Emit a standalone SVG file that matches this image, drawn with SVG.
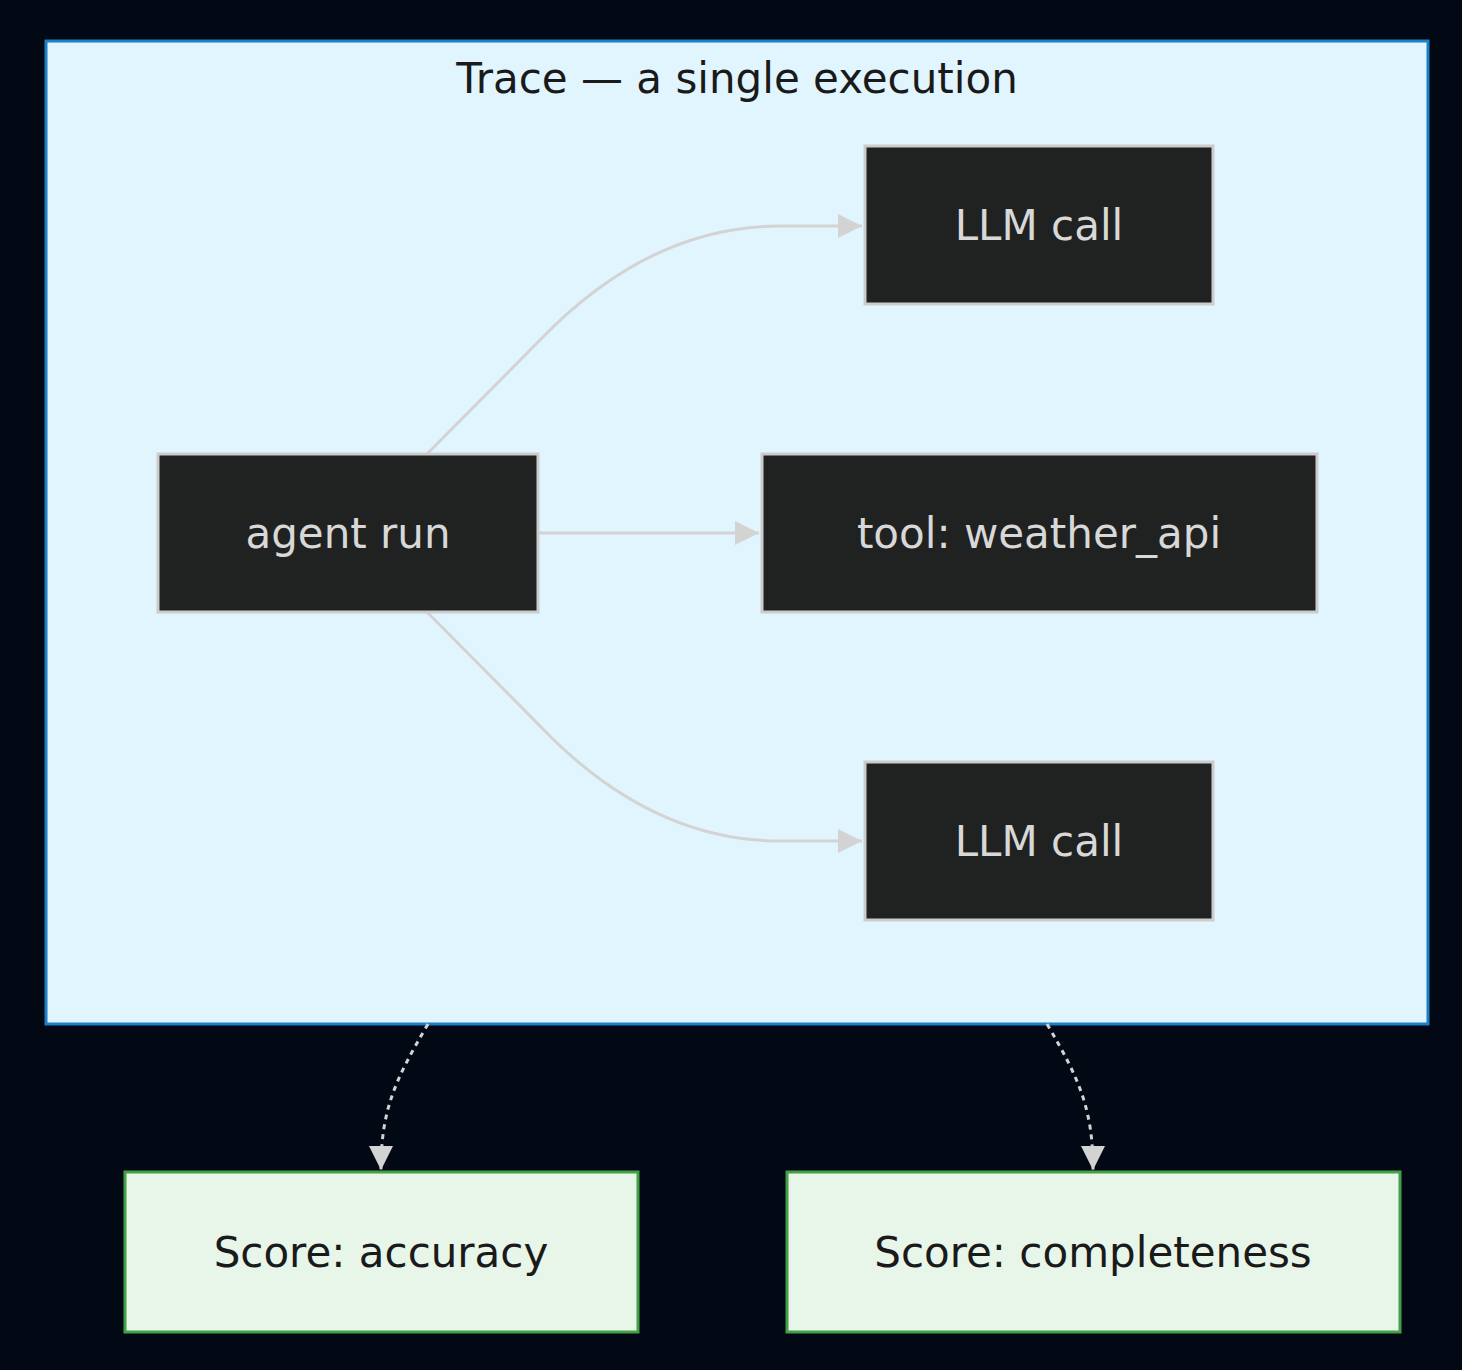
<svg xmlns="http://www.w3.org/2000/svg" width="1462" height="1370" viewBox="0 0 1462 1370">
<style>
.lbl{font-family:"DejaVu Sans","Noto Sans",sans-serif;font-size:42px;text-anchor:middle;dominant-baseline:central}
.dark rect{fill:#202221;stroke:#cccccc;stroke-width:3}
.dark text{fill:#d8d8d8}
.score rect{fill:#e8f5e9;stroke:#43a047;stroke-width:3}
.score text{fill:#1a1a1a}
.edge{fill:none;stroke:#d3d3d3;stroke-width:3}
.dash{stroke-dasharray:5,5}
</style>
<defs>
<marker id="arr" viewBox="0 0 10 10" refX="10" refY="5" markerWidth="25" markerHeight="24" markerUnits="userSpaceOnUse" orient="auto">
<path d="M0,0 L10,5 L0,10 z" fill="#d3d3d3"/>
</marker>
</defs>
<rect x="0" y="0" width="1462" height="1370" fill="#020814"/>
<g id="cluster-trace">
<rect x="46" y="41" width="1382" height="983" fill="#e1f5fe" stroke="#1f7fc4" stroke-width="3"/>
<text class="lbl" x="737" y="78" fill="#1a1a1a">Trace — a single execution</text>
</g>
<g id="connectors">
<path class="edge" d="M427,454 L540,340 Q650,226 780,226 L862,226" marker-end="url(#arr)"/>
<path class="edge" d="M538,533 L759,533" marker-end="url(#arr)"/>
<path class="edge" d="M427,612 L540,726 Q650,841 780,841 L862,841" marker-end="url(#arr)"/>
<path class="edge dash" d="M428,1024 C395,1080 381,1110 381,1170" marker-end="url(#arr)"/>
<path class="edge dash" d="M1047,1024 C1080,1080 1093,1110 1093,1170" marker-end="url(#arr)"/>
</g>
<g id="node-llm1" class="dark">
<rect x="865" y="146" width="348" height="158"/>
<text class="lbl" x="1039" y="225">LLM call</text>
</g>
<g id="node-agent" class="dark">
<rect x="158" y="454" width="380" height="158"/>
<text class="lbl" x="348" y="533">agent run</text>
</g>
<g id="node-tool" class="dark">
<rect x="762" y="454" width="555" height="158"/>
<text class="lbl" x="1039" y="533">tool: weather_api</text>
</g>
<g id="node-llm2" class="dark">
<rect x="865" y="762" width="348" height="158"/>
<text class="lbl" x="1039" y="841">LLM call</text>
</g>
<g id="node-score-acc" class="score">
<rect x="125" y="1172" width="513" height="160"/>
<text class="lbl" x="381" y="1252">Score: accuracy</text>
</g>
<g id="node-score-comp" class="score">
<rect x="787" y="1172" width="613" height="160"/>
<text class="lbl" x="1093" y="1252">Score: completeness</text>
</g>
</svg>
